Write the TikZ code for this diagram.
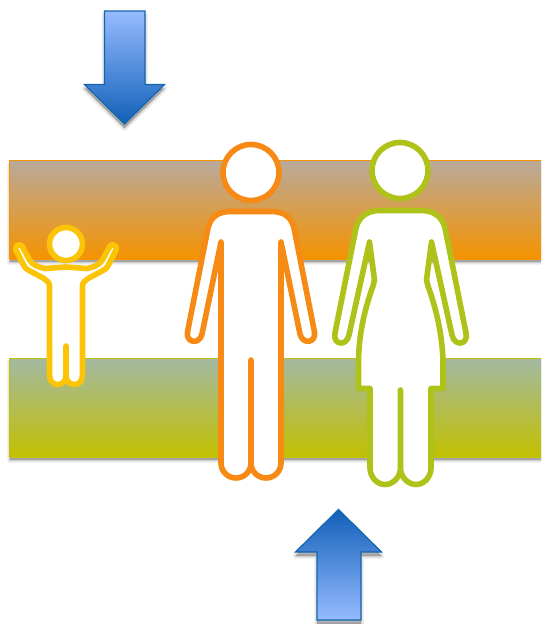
\documentclass[tikz,border=0pt]{standalone}
\definecolor{manc}{HTML}{F78A14}
\definecolor{womanc}{HTML}{AFC21A}
\definecolor{childc}{HTML}{FCC406}
\definecolor{arrowline}{HTML}{1565AE}
\definecolor{arrowtop}{HTML}{96BBFF}
\definecolor{arrowbot}{HTML}{1160B8}
\definecolor{bartopa}{HTML}{B9A99C}
\definecolor{barbota}{HTML}{F59300}
\definecolor{bartopb}{HTML}{A3B9A2}
\definecolor{barbotb}{HTML}{C2C000}
\tikzset{
  figure/.style={fill=white,line width=5.6pt,line join=round,line cap=round},
  softshade/.style={fill=black!70,draw=black!70,fill opacity=.12,draw opacity=.07,line width=#1,line join=round},
  softshade/.default=2pt,
  arrowshape/.style={draw=arrowline,line width=1.2pt,line join=miter},
  barbox/.style={line width=1.3pt}
}
\newcommand{\shadowed}[2][3]{%
  \foreach \w in {6pt,4pt,2pt,.5pt}{\path[softshade=\w,yshift=-#1pt] #2;}}
\begin{document}
\begin{tikzpicture}[x=1pt,y=-1pt]
\useasboundingbox (0,0) rectangle (541,624);
\clip (0,0) rectangle (541,624);
% bars
\def\barA{(9.5,160.5) rectangle (550,259)}
\def\barB{(9.5,358.5) rectangle (550,457)}
\shadowed{\barA}
\shadowed{\barB}
\shade[top color=bartopa,bottom color=barbota] \barA;
\draw[barbox,draw=barbota] (550,160.5) -- (9.5,160.5) -- (9.5,259);
\shade[top color=bartopb,bottom color=barbotb] \barB;
\draw[barbox,draw=barbotb] (550,358.5) -- (9.5,358.5) -- (9.5,457);
% arrows
\def\arrowD{(104.5,11) -- (145,11) -- (145,84.5) -- (164.5,84.5) -- (124.5,124) -- (84.5,84.5) -- (104.5,84.5) -- cycle}
\def\arrowU{(317,620) -- (361,620) -- (361,552) -- (381.5,552) -- (338.5,509.5) -- (295.5,552) -- (317,552) -- cycle}
\shadowed[4]{\arrowD}
\shadowed[4]{\arrowU}
\shade[top color=arrowtop,bottom color=arrowbot] \arrowD;
\draw[arrowshape] \arrowD;
\shade[top color=arrowbot,bottom color=arrowtop] \arrowU;
\draw[arrowshape] \arrowU;
% man
\draw[figure,draw=manc] (251,172.5) circle[radius=28];
\draw[figure,draw=manc] (221,242) -- (221,463)
  .. controls (221,471.3) and (227.7,478) .. (236,478)
  .. controls (244.3,478) and (251,471.3) .. (251,463) -- (251,360) -- (251,463)
  .. controls (251,471.3) and (257.7,478) .. (266,478)
  .. controls (274.3,478) and (281,471.3) .. (281,463) -- (281,242)
  -- (300,334) .. controls (302.5,345) and (316.5,343) .. (314.5,332)
  -- (294,228) .. controls (291,216) and (283,211.5) .. (271,211.5)
  -- (231,211.5) .. controls (219,211.5) and (211,216) .. (208,228)
  -- (187.5,332) .. controls (185.5,343) and (199.5,345) .. (202,334) -- cycle;
% woman
\draw[figure,draw=womanc] (400,170.5) circle[radius=28];
\draw[figure,draw=womanc] (369.5,242) -- (374.5,280) -- (373,286)
  .. controls (364,311) and (359,335) .. (358.5,360) -- (358.5,388.5) -- (370,388.5) -- (370,468)
  .. controls (370,477) and (377,484.5) .. (385,484.5)
  .. controls (393,484.5) and (400.5,477) .. (400.5,468) -- (400.5,390) -- (400.5,468)
  .. controls (400.5,477) and (408,484.5) .. (416,484.5)
  .. controls (424,484.5) and (431,477) .. (431,468) -- (431,388.5) -- (443,388.5) -- (443,360)
  .. controls (442,335) and (437,311) .. (428,286) -- (426.5,280) -- (431.5,242)
  -- (452,335) .. controls (454.5,347) and (468.5,345) .. (466,333)
  -- (445,228) .. controls (442,216) and (433,210.5) .. (421,210.5)
  -- (380,210.5) .. controls (368,210.5) and (359,216) .. (356,228)
  -- (335,333) .. controls (332.5,345) and (346.5,347) .. (349,335) -- cycle;
% child
\draw[figure,draw=childc] (66,244) circle[radius=16.5];
\draw[figure,draw=childc] (66,267) -- (45,268.5)
  .. controls (38,267) and (32,265) .. (29,259) -- (22,246)
  .. controls (20,243) and (14,246) .. (16,250) -- (23,264)
  .. controls (25,268) and (27,270) .. (30,271) -- (43,278)
  .. controls (46,280) and (49.5,282) .. (49.5,286) -- (49.5,375)
  .. controls (49.5,381) and (53,384.5) .. (57.7,384.5)
  .. controls (62.5,384.5) and (66,381) .. (66,375) -- (66,346) -- (66,375)
  .. controls (66,381) and (69.5,384.5) .. (74.3,384.5)
  .. controls (79,384.5) and (82.5,381) .. (82.5,375) -- (82.5,286)
  .. controls (82.5,282) and (86,280) .. (89,278) -- (102,271)
  .. controls (105,270) and (107,268) .. (109,264) -- (116,250)
  .. controls (118,246) and (112,243) .. (110,246) -- (103,259)
  .. controls (100,265) and (94,267) .. (87,268.5) -- cycle;
\end{tikzpicture}
\end{document}
